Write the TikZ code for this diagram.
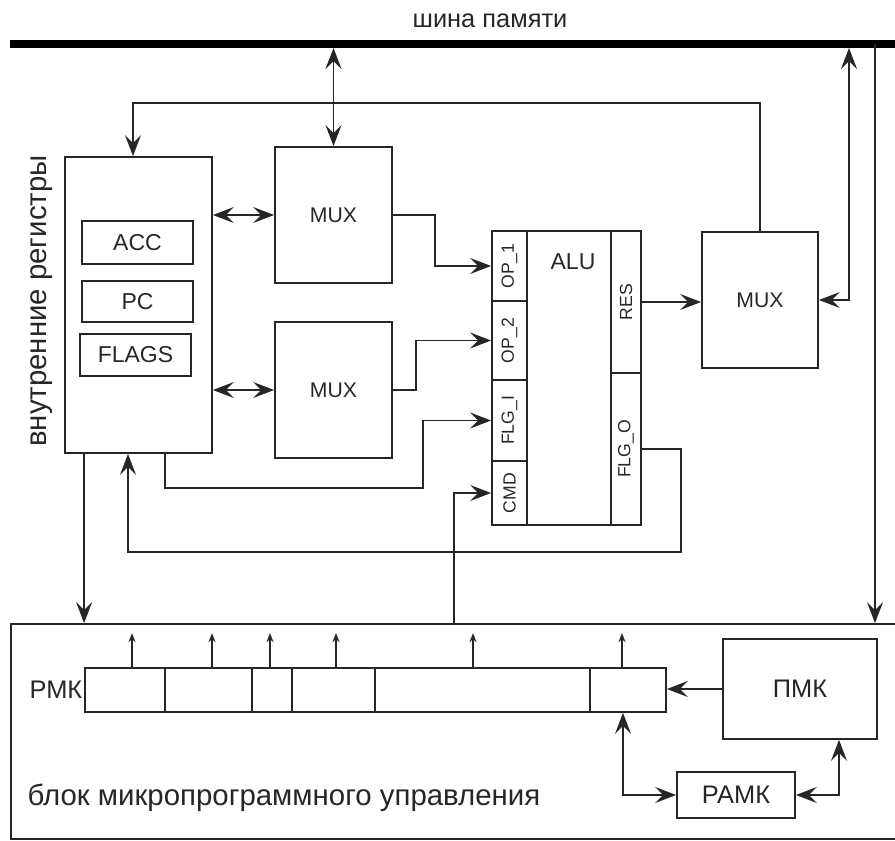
\documentclass[tikz,border=0pt]{standalone}
\usepackage{fontspec}
\setmainfont{Liberation Sans}
\usetikzlibrary{arrows.meta}

\begin{document}
\begin{tikzpicture}[x=0.5pt, y=-0.5pt, line width=0.9pt, color=black!85,
  box/.style={draw, rectangle, inner sep=0pt},
  arr/.style={-{Stealth[length=10.5pt,width=8pt,inset=4pt]}},
  darr/.style={{Stealth[length=10.5pt,width=8pt,inset=4pt]}-{Stealth[length=10.5pt,width=8pt,inset=4pt]}},
  tick/.style={-{Stealth[length=4.5pt,width=3.5pt]}, line width=0.8pt},
  big/.style={font=\fontsize{14.7}{16}\selectfont},
  mid/.style={font=\fontsize{12.7}{14}\selectfont},
  reg/.style={font=\fontsize{11.5}{13}\selectfont},
  muxf/.style={font=\fontsize{10.6}{12}\selectfont},
  small/.style={font=\fontsize{8.8}{10}\selectfont, rotate=90}]
\useasboundingbox (0,0) rectangle (895,841);

\coordinate (busl) at (10,44);
\coordinate (busr) at (895,44);
\coordinate (busb) at (0,48);
\coordinate (tapr) at (849,48);
\coordinate (tapc) at (875,44);
\draw[line width=4.2pt, black] (busl) -- (busr);
\node[mid] (bustext) at (490,21) {шина памяти};

\node[box, minimum width=73.5pt, minimum height=148pt] (regs) at (138.5,305) {};
\node[big, rotate=90] (regtext) at (42,301) {внутренние регистры};
\node[box, reg, minimum width=55.5pt, minimum height=21.5pt] (acc) at (137.5,242.5) {ACC};
\node[box, reg, minimum width=55.5pt, minimum height=20.5pt] (pc) at (137.5,301.5) {PC};
\node[box, reg, minimum width=55.5pt, minimum height=21pt] (flags) at (135.5,355) {FLAGS};

\node[box, muxf, minimum width=58.5pt, minimum height=68pt] (mux1) at (333.5,215) {MUX};
\node[box, muxf, minimum width=58.5pt, minimum height=68pt] (mux2) at (333.5,390) {MUX};

\node[box, minimum width=74.5pt, minimum height=147pt] (alu) at (566.5,378) {};
\node[reg] (alutext) at (573,262) {ALU};
\node[box, minimum width=17.5pt, minimum height=35pt] (op1) at (509.5,266) {};
\node[box, minimum width=17.5pt, minimum height=39.5pt] (op2) at (509.5,340.5) {};
\node[box, minimum width=17.5pt, minimum height=40.5pt] (flgi) at (509.5,420.5) {};
\node[box, minimum width=17.5pt, minimum height=32pt] (cmd) at (509.5,493) {};
\node[box, minimum width=15pt, minimum height=71pt] (res) at (626,302) {};
\node[box, minimum width=15pt, minimum height=76pt] (flgo) at (626,449) {};
\node[small] (op1text) at (op1) {OP\_1};
\node[small] (op2text) at (op2) {OP\_2};
\node[small] (flgitext) at (flgi) {FLG\_I};
\node[small] (cmdtext) at (cmd) {CMD};
\node[small] (restext) at (res) {RES};
\node[small] (flgotext) at (flgo) {FLG\_O};

\node[box, muxf, minimum width=58pt, minimum height=68pt] (muxr) at (760,300) {MUX};

\node[box, minimum width=443pt, minimum height=107.5pt] (ctrl) at (454,731.5) {};
\node[big, anchor=west] (ctrltext) at (20,798) {блок микропрограммного управления};
\node[box, minimum width=290.5pt, minimum height=22pt] (rmk) at (375.5,690) {};
\node[mid, anchor=east, inner sep=0.5pt] (rmktext) at (rmk.west) {РМК};
\node[box, mid, minimum width=77pt, minimum height=50pt] (pmk) at (800,689) {ПМК};
\node[box, mid, minimum width=59pt, minimum height=23pt] (ramk) at (736,795) {РАМК};

\draw[darr] (mux1.north) -- (mux1.north |- busb);
\draw[arr] (muxr.north) -- ++(0,-128) -| ([xshift=-2.75pt]regs.north);
\draw[darr] (regs.east |- mux1.west) -- (mux1.west);
\draw[darr] (regs.east |- mux2.west) -- (mux2.west);
\draw[arr] (mux1.east) -- ++(42,0) |- (op1.west);
\draw[arr] (mux2.east) -- ++(23,0) |- (op2.west);
\draw[arr] ([xshift=13.25pt]regs.south) |- (423,488) |- (flgi.west);
\draw[arr] (ctrl.north) |- (cmd.west);
\draw[arr] (flgo.east) -| (681,552) -| ([xshift=-5.25pt]regs.south);
\draw[arr] ([xshift=10pt]regs.south west) -- ([xshift=10pt]regs.south west |- ctrl.north);
\draw[arr] (res.east) -- (res.east -| muxr.west);
\draw[darr] (tapr) |- (muxr.east);
\draw[arr] (tapc) -- (tapc |- ctrl.north);

\foreach \x in {165,252,292,375,590}
  \draw (rmk.north -| \x,0) -- (rmk.south -| \x,0);
\foreach \x in {132,212,270,336,473,622}
  \draw[tick] (rmk.north -| \x,0) -- ++(0,-34);
\draw[arr] (pmk.west) -- (pmk.west -| rmk.east);
\draw[darr] (rmk.south -| 623,0) |- (ramk.west);
\draw[darr] (ramk.east) -| (pmk.south -| 839,0);
\end{tikzpicture}
\end{document}
